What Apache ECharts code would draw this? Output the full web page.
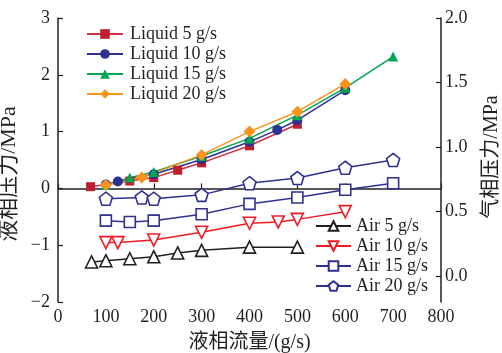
<!DOCTYPE html>
<html><head><meta charset="utf-8">
<script src="https://cdn.jsdelivr.net/npm/echarts@6/dist/echarts.min.js"></script>
<style>html,body{margin:0;padding:0;background:#fff}#c{width:502px;height:353px}</style>
</head><body><div id="c"></div>
<script>
const xTicks = [0,100,200,300,400,500,600,700,800];
const leftTicks = [-2,-1,0,1,2,3];
const rightTicks = [0,0.5,1,1.5,2];

const liq5x = [68,150,200,250,300,400,500];
const liq5y = [0.03,0.13,0.19,0.32,0.45,0.75,1.13];
const liq10x = [100,125,200,300,400,458,500,600];
const liq10y = [0.07,0.12,0.25,0.51,0.82,1.03,1.20,1.73];
const liq15x = [100,150,200,300,400,500,600,700];
const liq15y = [0.06,0.19,0.29,0.57,0.88,1.29,1.77,2.32];
const liq20x = [100,175,300,400,500,600];
const liq20y = [0.06,0.19,0.59,1.0,1.35,1.84];

const air5x = [70,100,150,200,250,300,400,500];
const air5y = [0.11,0.12,0.135,0.15,0.18,0.20,0.225,0.225];
const air10x = [100,125,200,300,400,460,500,600];
const air10y = [0.26,0.26,0.28,0.34,0.41,0.42,0.44,0.50];
const air15x = [100,150,200,300,400,500,600,700];
const air15y = [0.43,0.42,0.43,0.48,0.56,0.61,0.67,0.72];
const air20x = [100,175,200,300,400,500,600,700];
const air20y = [0.60,0.61,0.60,0.63,0.72,0.76,0.84,0.90];

const zip = (a,b) => a.map((v,i)=>[v,b[i]]);
const FONT = '"Liberation Serif","Noto Sans CJK SC",serif';
const TXT = '#231f20';
const FS = 18;
const minus = v => String(v).replace('-', '\u2212');
const pent = 'path://M0,-1 L0.951,-0.309 L0.588,0.809 L-0.588,0.809 L-0.951,-0.309 Z';

function liq(name, x, y, sym, size, lineC, markC){
  return {name, type:'line', xAxisIndex:0, yAxisIndex:0, data: zip(x,y), symbol:sym, symbolSize:size,
    lineStyle:{color:lineC,width:1.5}, itemStyle:{color:markC}, z:3};
}
function air(name, x, y, sym, size, col, rot){
  return {name, type:'line', xAxisIndex:0, yAxisIndex:1, data: zip(x,y), symbol:sym, symbolSize:size,
    symbolRotate: rot||0, showAllSymbol:true,
    lineStyle:{color:col,width:1.5}, itemStyle:{color:'#fff', borderColor:col, borderWidth:1.6}, z:2};
}

const chart = echarts.init(document.getElementById('c'));
chart.setOption({
  animation:false,
  backgroundColor:'#fff',
  textStyle:{fontFamily:FONT, color:TXT},
  grid:{left:58, right:61, top:18, bottom:51, outerBoundsMode:'none', containLabel:false},
  xAxis:{type:'value', min:0, max:800, interval:100,
    name:'液相流量/(g/s)', nameLocation:'middle', nameGap:31,
    nameTextStyle:{fontFamily:FONT, fontSize:20, color:TXT},
    axisLine:{lineStyle:{color:TXT,width:1.5}},
    axisTick:{inside:true, length:5, lineStyle:{color:TXT,width:1.2}, customValues: xTicks},
    axisLabel:{fontSize:FS, color:TXT, margin:6, fontFamily:FONT, customValues: xTicks},
    splitLine:{show:false}},
  yAxis:[
    {type:'value', min:-2, max:3, interval:1, position:'left',
     name:'液相压力/MPa', nameLocation:'middle', nameGap:21, nameRotate:90,
     nameTextStyle:{fontFamily:FONT, fontSize:22, color:TXT, padding:[0,28,0,0]},
     axisLine:{show:true, lineStyle:{color:TXT,width:1.5}},
     axisTick:{show:true, inside:true, length:5, lineStyle:{color:TXT,width:1.2}, customValues: leftTicks},
     axisLabel:{fontSize:FS, color:TXT, margin:8, fontFamily:FONT, formatter: minus, customValues: leftTicks},
     splitLine:{show:false}},
    {type:'value', min:-0.2, max:2.0, position:'right',
     name:'气相压力/MPa', nameLocation:'middle', nameGap:41, nameRotate:90,
     nameTextStyle:{fontFamily:FONT, fontSize:20, color:TXT, padding:[0,0,0,6]},
     axisLine:{show:true, lineStyle:{color:TXT,width:1.5}},
     axisTick:{show:true, inside:true, length:5, lineStyle:{color:TXT,width:1.2}, customValues: rightTicks},
     axisLabel:{fontSize:FS, color:TXT, margin:4, fontFamily:FONT, formatter: v=>v.toFixed(1), customValues: rightTicks},
     splitLine:{show:false}}
  ],
  legend:[
    {data:['Liquid 5 g/s','Liquid 10 g/s','Liquid 15 g/s','Liquid 20 g/s'],
     orient:'vertical', left:81, top:20, itemWidth:36, itemHeight:12, itemGap:2,
     textStyle:{fontFamily:FONT, fontSize:FS, color:TXT, padding:[0,0,0,2]}},
    {data:['Air 5 g/s','Air 10 g/s','Air 15 g/s','Air 20 g/s'],
     orient:'vertical', left:310, top:212, itemWidth:35, itemHeight:12, itemGap:2,
     textStyle:{fontFamily:FONT, fontSize:FS, color:TXT, padding:[0,0,0,0]}}
  ],
  series:[
    air('Air 5 g/s', air5x, air5y, 'triangle', 12, '#231f20'),
    air('Air 10 g/s', air10x, air10y, 'triangle', 12, '#ed1c24', 180),
    air('Air 15 g/s', air15x, air15y, 'rect', 11, '#2e3192'),
    air('Air 20 g/s', air20x, air20y, pent, 13, '#2e3192'),
    liq('Liquid 5 g/s', liq5x, liq5y, 'rect', 9, '#d0304a', '#be1e2d'),
    liq('Liquid 10 g/s', liq10x, liq10y, 'circle', 10, '#2e3192', '#2e3192'),
    liq('Liquid 15 g/s', liq15x, liq15y, 'triangle', 10, '#00a651', '#00a651'),
    liq('Liquid 20 g/s', liq20x, liq20y, 'diamond', 12, '#f7941d', '#f7941d')
  ]
});
</script></body></html>
